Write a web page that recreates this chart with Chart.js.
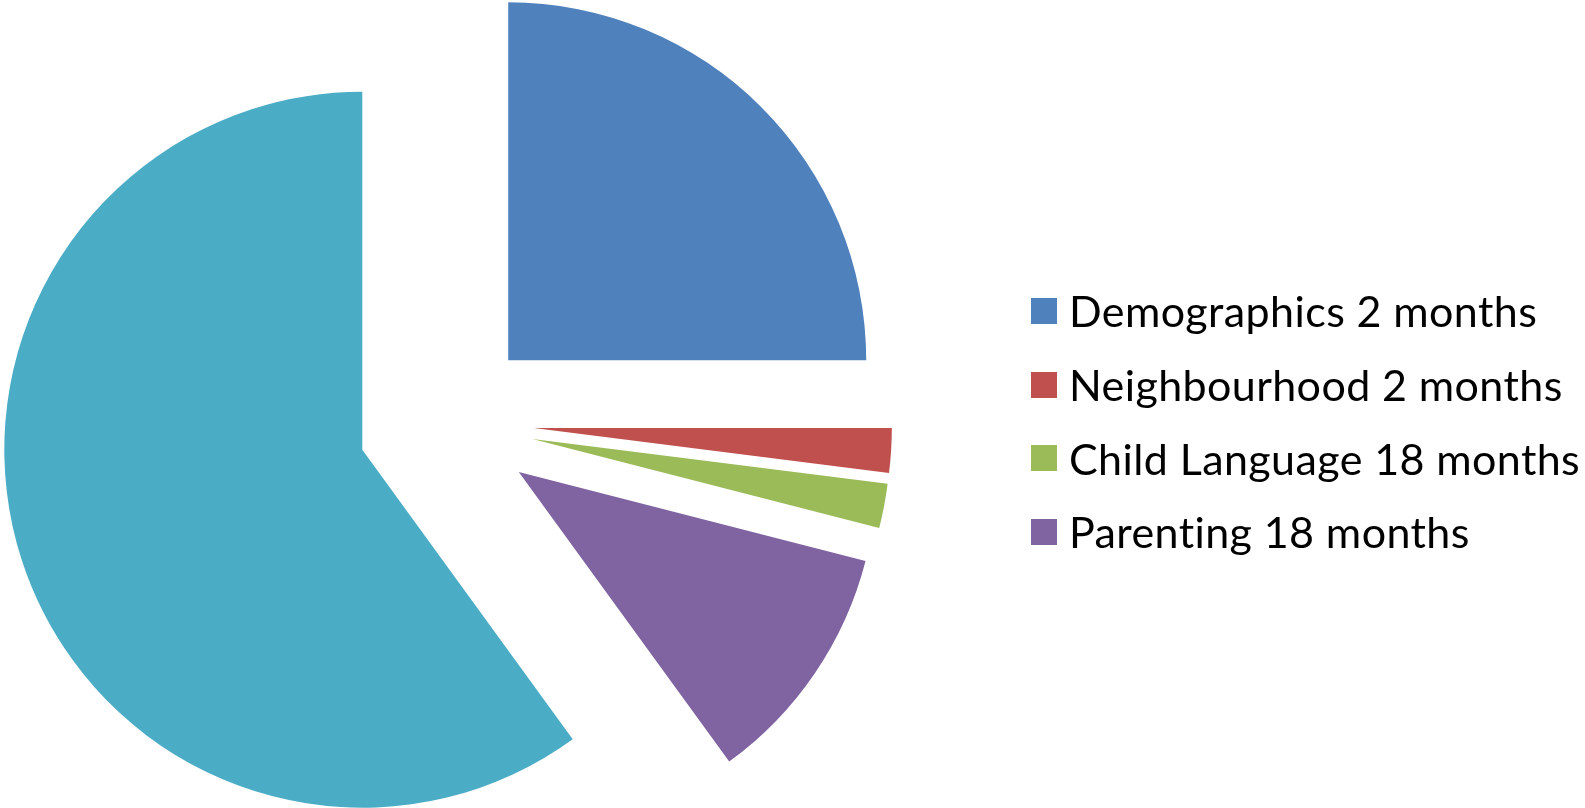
<!DOCTYPE html>
<html>
<head>
<meta charset="utf-8">
<script src="https://cdn.jsdelivr.net/npm/chart.js@4.4.1/dist/chart.umd.min.js"></script>
<style>
  html, body { margin: 0; padding: 0; background: #fff; }
  #wrap { position: relative; width: 1585px; height: 808px; }
  #pie { position: absolute; left: 0; top: 0; }
  #legend { position: absolute; left: 1031px; top: 274px; font-family: Lato, 'Open Sans', sans-serif; font-size: 43px; letter-spacing: 0.4px; color: #000; font-variant-ligatures: none; }
  .item { display: flex; align-items: center; height: 73.7px; white-space: nowrap; }
  .box { width: 26px; height: 26px; margin-right: 12px; flex: none; }
</style>
</head>
<body>
<div id="wrap">
  <canvas id="pie" width="1585" height="808"></canvas>
  <div id="legend"></div>
</div>
<script>
const labels = ['Demographics 2 months', 'Neighbourhood 2 months', 'Child Language 18 months', 'Parenting 18 months', ''];
const values = [25, 2, 2, 11, 60];
const colors = ['#4F81BD', '#C0504D', '#9BBB59', '#8064A2', '#4BACC6'];

// Chart.js grows exploded arcs and trims their angle; undo that so every
// slice keeps the same radius and its full sweep, like an Excel exploded pie
const explodeFix = {
  id: 'explodeFix',
  afterDatasetUpdate(chart, args) {
    args.meta.data.forEach(arc => {
      const off = (arc.options.offset || 0) / 4;
      const fix = 1 - Math.sin(Math.min(Math.PI, arc.circumference));
      const ro = off * fix;
      const r = arc.outerRadius;
      const da = ro / (2 * Math.PI * r);
      arc.outerRadius = r - ro;
      arc.startAngle -= da;
      arc.endAngle += da;
    });
  },
};

function renderPie() {
  const canvas = document.getElementById('pie');
  new Chart(canvas, {
    type: 'pie',
    data: {
      labels: labels,
      datasets: [{
        data: values,
        backgroundColor: colors,
        borderWidth: 0,
        // arc element moves by offset / 4, so this gives an 88px explode
        offset: 352,
        clip: false,
      }],
    },
    options: {
      responsive: false,
      animation: false,
      radius: 358,
      layout: { padding: { left: 0, top: 37, right: 693, bottom: 0 } },
      plugins: { legend: { display: false }, tooltip: { enabled: false } },
    },
    plugins: [explodeFix],
  });
}

function renderLegend() {
  const el = document.getElementById('legend');
  el.innerHTML = labels.map((l, i) => l ? `
    <div class="item"><span class="box" style="background:${colors[i]}"></span><span>${l}</span></div>
  ` : '').join('');
}

renderPie();
renderLegend();
</script>
</body>
</html>
